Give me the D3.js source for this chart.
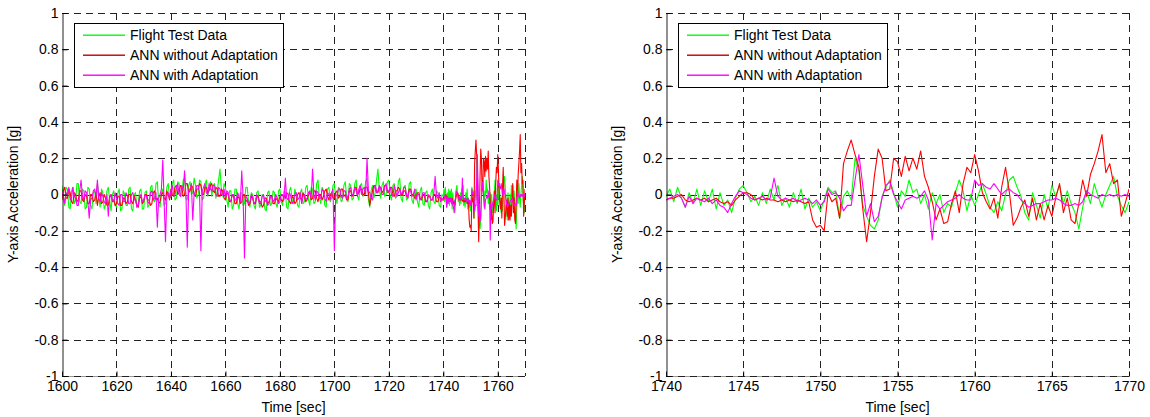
<!DOCTYPE html>
<html><head><meta charset="utf-8">
<script src="https://cdn.jsdelivr.net/npm/d3@7"></script>
<style>body{margin:0;background:#fff;} svg{display:block;font-family:"Liberation Sans",Arial,sans-serif;}</style>
</head><body><svg id="chart" width="1150" height="417"></svg>
<script>
// ---- Data ----
// Coarse samples, 0.5 s apart, 1600 .. 1739.5 s
const coarseStart = 1600, coarseEnd = 1740, coarseStep = 0.5;
const flightCoarse = [
  0.05,-0.02,-0.06,0.04,0.03,-0.07,-0.08,0.02,0.04,-0.05,-0.03,0.06,0.06,-0.04,-0.05,0.03,0.02,-0.08,-0.07,0.04,
  0.03,-0.06,-0.08,0.01,0.02,-0.05,0.06,-0.02,-0.07,0.03,0.01,-0.08,-0.06,0.02,0.04,-0.03,-0.09,0.00,0.02,-0.06,
  -0.07,0.01,0.03,-0.09,-0.08,0.02,0.00,-0.06,-0.06,0.03,0.04,-0.08,-0.09,0.00,0.01,-0.07,-0.05,0.02,0.03,-0.08,
  -0.08,0.01,0.02,-0.07,-0.06,0.04,0.05,-0.03,-0.04,0.06,0.07,-0.05,-0.07,0.01,0.03,-0.06,-0.05,0.04,0.06,-0.02,
  -0.01,0.06,0.08,-0.03,-0.02,0.07,0.06,-0.01,0.00,0.08,0.09,-0.02,-0.03,0.05,0.07,0.00,0.01,0.09,0.05,-0.02,
  0.00,0.08,0.07,-0.03,-0.02,0.06,0.08,-0.01,0.03,0.07,-0.01,0.05,0.06,-0.02,0.02,0.08,0.14,0.03,-0.01,0.06,
  0.04,-0.03,-0.07,0.02,0.02,-0.08,-0.06,0.03,0.03,-0.05,-0.08,0.01,0.01,-0.06,-0.05,0.04,0.04,-0.04,-0.07,0.01,
  0.00,-0.06,-0.08,0.01,0.02,-0.07,-0.06,0.00,-0.01,-0.08,-0.09,0.01,0.02,-0.06,-0.05,0.02,0.01,-0.05,-0.07,0.02,
  0.03,-0.04,-0.06,0.02,0.01,-0.07,-0.08,0.02,0.04,-0.03,-0.05,0.03,0.00,-0.06,-0.07,0.01,0.03,-0.05,-0.04,0.04,
  0.05,-0.03,-0.06,0.04,0.03,-0.05,-0.04,0.06,0.08,-0.02,-0.05,0.04,0.02,-0.06,-0.07,0.03,0.04,-0.04,-0.02,0.05,
  0.06,-0.02,-0.05,0.04,0.03,-0.04,-0.03,0.05,0.07,-0.01,-0.04,0.06,0.05,-0.03,-0.02,0.06,0.08,-0.01,-0.03,0.05,
  0.06,-0.01,0.00,0.07,0.09,-0.03,-0.07,0.02,0.05,-0.02,0.01,0.08,0.14,0.03,-0.02,0.05,0.07,-0.01,0.00,0.07,
  0.08,-0.01,-0.03,0.05,0.06,-0.02,-0.01,0.07,0.09,-0.02,-0.04,0.04,0.05,-0.03,-0.02,0.06,0.07,-0.03,-0.05,0.02,
  0.03,-0.04,-0.07,0.02,0.04,-0.05,-0.06,0.01,0.02,-0.06,-0.08,0.01,0.03,-0.04,-0.05,0.02,0.01,-0.06,-0.07,0.00
];
const annNoAdaptCoarse = [
  -0.03,0.02,0.04,-0.02,-0.02,0.03,0.01,-0.04,-0.05,0.01,0.00,-0.04,-0.03,0.02,0.02,-0.03,-0.04,0.00,-0.01,-0.05,
  -0.05,0.00,0.00,-0.04,-0.03,0.01,-0.06,-0.01,0.01,-0.05,-0.04,0.00,-0.02,-0.06,-0.06,-0.01,0.00,-0.04,-0.03,-0.06,
  -0.05,-0.01,-0.01,-0.06,-0.06,-0.02,-0.02,-0.05,-0.04,0.00,0.00,-0.04,-0.05,-0.01,-0.03,-0.06,-0.07,-0.02,-0.01,-0.05,
  -0.04,0.00,0.00,-0.03,-0.03,-0.06,-0.05,0.01,0.02,-0.03,-0.02,-0.05,-0.04,0.00,0.01,-0.02,-0.03,0.02,0.00,-0.03,
  0.03,0.00,-0.01,0.04,0.05,0.00,0.01,0.05,0.04,-0.01,0.00,0.06,0.06,0.01,0.02,0.05,0.04,0.00,-0.01,0.03,
  0.03,0.06,0.05,0.00,0.00,0.04,0.04,0.01,0.02,0.05,0.06,0.02,0.01,0.04,0.03,-0.01,-0.01,0.03,0.02,-0.02,
  -0.03,0.01,0.00,-0.04,-0.04,0.00,-0.01,-0.05,-0.05,-0.01,-0.02,-0.05,-0.04,0.00,0.00,-0.04,-0.03,-0.06,-0.05,-0.01,
  -0.02,-0.05,-0.05,-0.01,-0.01,-0.04,-0.04,-0.07,-0.06,-0.02,-0.02,-0.05,-0.04,-0.01,-0.01,-0.05,-0.05,-0.02,-0.03,-0.04,
  -0.01,-0.03,-0.04,-0.01,-0.02,0.01,0.00,-0.04,-0.05,-0.01,-0.02,-0.05,-0.04,0.00,0.01,-0.02,-0.03,0.01,-0.01,-0.04,
  -0.03,0.00,0.01,-0.03,-0.02,0.02,0.02,-0.02,-0.04,0.00,0.00,-0.03,-0.01,0.02,0.03,-0.01,-0.03,0.00,0.01,-0.02,
  -0.02,0.01,0.02,-0.02,-0.01,0.03,0.03,-0.01,0.00,-0.03,-0.03,0.02,0.02,-0.01,0.00,0.04,0.04,0.00,0.01,0.03,
  0.03,0.00,0.00,0.04,0.04,0.01,-0.06,-0.02,0.02,0.05,0.05,0.01,0.01,0.04,0.04,0.01,0.02,0.05,0.05,0.02,
  0.01,0.04,0.04,0.00,-0.01,0.02,0.02,0.04,0.03,0.00,0.00,0.02,0.02,-0.01,-0.01,0.03,0.03,0.00,0.00,-0.02,
  -0.02,0.01,0.01,-0.02,-0.03,0.00,0.00,-0.04,-0.04,-0.01,-0.01,-0.03,-0.03,0.00,0.00,-0.04,-0.04,-0.01,-0.02,-0.03
];
const annAdaptCoarse = [
  0.02,-0.01,-0.05,0.01,0.00,0.04,-0.03,-0.02,0.04,-0.01,-0.02,-0.06,-0.06,0.02,0.08,-0.01,-0.03,0.02,0.01,-0.04,
  -0.13,-0.03,-0.02,0.02,0.03,-0.01,0.08,-0.02,-0.04,0.01,-0.01,-0.04,-0.05,0.00,-0.12,-0.02,0.00,-0.03,-0.04,0.01,
  -0.02,-0.05,-0.06,0.00,0.00,-0.04,-0.04,0.01,-0.01,-0.05,-0.05,0.00,0.01,-0.03,-0.03,-0.07,-0.06,-0.01,0.00,-0.04,
  -0.03,0.00,-0.01,-0.04,-0.05,0.01,0.02,-0.03,-0.02,0.01,-0.18,-0.02,0.00,0.03,0.19,-0.04,-0.26,-0.01,0.01,-0.02,
  0.02,0.05,-0.01,0.00,0.04,0.06,0.00,-0.01,0.05,0.02,0.13,0.00,-0.29,0.02,0.03,0.06,-0.14,0.00,0.02,0.05,
  0.05,0.01,-0.31,0.02,0.04,0.06,0.01,0.00,0.06,0.03,0.02,0.05,0.05,0.00,-0.01,0.04,0.03,0.00,0.00,0.03,
  -0.02,0.02,0.01,-0.03,-0.04,0.00,0.00,-0.03,-0.03,0.01,-0.01,-0.04,0.13,-0.02,-0.35,-0.01,-0.02,-0.05,-0.04,0.00,
  -0.01,-0.05,-0.04,0.00,-0.02,-0.05,-0.05,-0.01,0.00,-0.04,-0.03,-0.06,-0.05,-0.01,-0.01,-0.04,-0.03,0.00,-0.02,-0.05,
  -0.04,0.00,0.00,-0.03,0.09,-0.02,-0.03,0.01,-0.01,-0.05,-0.04,0.00,0.01,-0.03,-0.02,0.01,-0.05,-0.01,0.00,-0.03,
  -0.02,0.01,0.02,-0.02,0.14,0.00,-0.03,0.02,0.01,-0.02,-0.02,0.03,0.02,-0.02,-0.04,0.01,0.00,-0.03,0.01,0.03,
  -0.31,-0.01,0.00,0.03,0.03,-0.01,-0.02,0.02,0.02,-0.02,-0.01,0.03,0.04,0.00,0.00,0.04,0.02,-0.01,0.03,0.05,
  0.00,0.03,0.04,0.00,0.20,0.02,0.01,-0.02,-0.03,0.03,0.05,0.01,0.02,0.05,0.03,0.00,0.00,0.04,0.06,0.01,
  0.02,0.04,0.00,-0.01,0.05,0.02,-0.01,0.01,0.03,0.00,0.01,0.04,0.04,0.00,-0.02,0.02,0.02,-0.01,0.00,0.03,
  -0.03,0.00,0.00,-0.03,-0.02,0.01,0.01,-0.03,-0.04,0.00,-0.01,-0.03,-0.03,0.00,0.10,-0.01,-0.02,0.01,-0.04,-0.02
];
// Fine samples, 0.25 s apart, 1740 .. 1770 s
const fineStart = 1740, fineStep = 0.25;
const flightFine = [
  -0.01,0.03,-0.04,0.04,-0.02,-0.07,0.01,-0.05,0.03,-0.06,
  0.02,-0.04,0.03,-0.08,0.01,-0.06,-0.03,-0.10,-0.02,0.03,
  0.05,0.01,-0.04,-0.01,-0.06,0.01,-0.05,0.03,-0.03,0.05,
  -0.06,-0.02,-0.07,0.01,-0.05,0.03,-0.08,-0.02,-0.07,-0.04,
  -0.09,-0.03,0.04,0.01,0.02,-0.13,-0.01,0.02,-0.03,0.20,
  0.13,-0.06,-0.12,-0.17,-0.19,-0.14,-0.01,0.04,0.08,0.01,
  -0.07,0.02,-0.01,0.08,0.01,0.03,-0.05,0.00,-0.08,0.01,
  -0.05,0.00,-0.10,-0.05,-0.07,0.01,0.08,0.02,-0.09,0.00,
  -0.06,0.00,0.06,0.00,-0.07,-0.10,-0.04,-0.09,0.00,0.08,
  0.10,0.04,-0.01,-0.10,-0.14,0.01,-0.06,-0.13,0.00,-0.08,
  0.05,-0.01,0.05,-0.05,0.02,-0.05,-0.10,-0.19,-0.07,0.02,
  -0.05,0.06,-0.01,-0.07,0.00,0.05,0.10,-0.01,-0.06,-0.10,
  -0.04
];
const annNoAdaptFine = [
  -0.03,-0.02,-0.02,-0.01,0.00,-0.03,-0.04,-0.03,-0.02,-0.03,
  -0.02,-0.04,-0.03,-0.02,-0.04,-0.05,-0.04,-0.06,-0.03,-0.01,
  0.01,0.01,0.00,-0.03,-0.02,-0.03,-0.02,-0.03,-0.03,-0.04,
  -0.03,-0.04,-0.03,-0.04,-0.03,-0.04,-0.05,-0.04,-0.14,-0.18,
  -0.17,-0.20,0.01,-0.04,-0.02,-0.13,0.17,0.24,0.30,0.22,
  0.15,-0.08,-0.26,-0.10,0.10,0.25,0.20,0.02,0.03,0.20,
  0.18,0.10,0.21,0.13,0.20,0.14,0.24,0.10,0.04,-0.04,
  -0.14,-0.08,-0.16,-0.15,-0.05,0.02,-0.10,0.06,0.15,0.12,
  0.22,0.13,0.01,-0.04,-0.08,-0.02,-0.13,0.04,0.15,0.01,
  -0.17,-0.13,-0.07,-0.03,-0.12,-0.02,-0.14,-0.05,-0.14,-0.06,
  -0.12,-0.02,0.06,-0.10,-0.02,-0.14,-0.16,-0.05,0.08,-0.01,
  0.11,0.17,0.24,0.33,0.12,0.17,0.06,0.08,-0.12,-0.05,
  0.03
];
const annAdaptFine = [
  -0.03,-0.02,-0.01,0.00,-0.02,-0.07,-0.01,-0.05,-0.02,-0.03,
  -0.04,-0.02,-0.05,-0.03,-0.06,-0.07,-0.10,-0.05,-0.01,0.02,
  0.01,0.00,-0.02,-0.03,-0.02,-0.01,-0.03,-0.02,0.09,-0.01,
  -0.03,-0.02,-0.03,-0.02,-0.04,-0.03,-0.02,-0.03,-0.05,-0.03,
  -0.06,-0.04,0.03,0.00,0.01,-0.02,-0.09,-0.06,-0.06,0.08,
  0.22,0.05,-0.12,-0.05,-0.15,-0.12,-0.02,0.05,0.07,0.00,
  -0.04,-0.08,-0.03,-0.02,-0.01,-0.02,-0.01,0.02,-0.03,-0.25,
  -0.05,-0.08,-0.06,-0.04,-0.03,-0.02,0.00,-0.02,-0.03,-0.03,
  0.08,0.05,0.06,0.04,0.03,0.06,0.03,0.00,0.02,0.03,
  0.01,0.00,-0.03,-0.05,-0.07,-0.06,-0.05,-0.05,-0.04,-0.03,
  -0.03,-0.02,-0.03,-0.05,-0.06,-0.06,-0.05,-0.06,-0.04,0.02,
  0.00,-0.01,-0.02,0.00,-0.01,0.00,-0.01,0.00,-0.01,0.00,
  -0.01
];
const seriesNames = ["Flight Test Data", "ANN without Adaptation", "ANN with Adaptation"];
const seriesColors = ["#00ff00", "#ff0000", "#ff00ff"];
const legendColors = ["#00ff00", "#c00000", "#ff00ff"];
const leftXTicks = [1600,1620,1640,1660,1680,1700,1720,1740,1760];
const rightXTicks = [1740,1745,1750,1755,1760,1765,1770];
const yTicks = [-1,-0.8,-0.6,-0.4,-0.2,0,0.2,0.4,0.6,0.8,1];
const xLabel = "Time [sec]";
const yLabel = "Y-axis Acceleration [g]";

// ---- Build sample tables ----
const coarseTime = d3.range(coarseStart, coarseEnd, coarseStep);
const fineTime = flightFine.map((_, i) => fineStart + i * fineStep);
const zip = (t, v) => t.map((tt, i) => [tt, v[i]]);
const fullSeries = [
  zip(coarseTime, flightCoarse).concat(zip(fineTime, flightFine)),
  zip(coarseTime, annNoAdaptCoarse).concat(zip(fineTime, annNoAdaptFine)),
  zip(coarseTime, annAdaptCoarse).concat(zip(fineTime, annAdaptFine))
];
const zoomSeries = [
  zip(fineTime, flightFine),
  zip(fineTime, annNoAdaptFine),
  zip(fineTime, annAdaptFine)
];

const svg = d3.select("#chart");
const defs = svg.append("defs");
const fmtY = d => String(Math.round(d * 10) / 10);
const FS = 14;

function panel(o) {
  const x = d3.scaleLinear().domain(o.xDomain).range([o.left, o.right]);
  const y = d3.scaleLinear().domain([-1, 1]).range([o.bottom, o.top]);
  const g = svg.append("g");
  const clipId = "clip" + o.left;
  defs.append("clipPath").attr("id", clipId).append("rect")
    .attr("x", o.left).attr("y", o.top - 1)
    .attr("width", o.right - o.left).attr("height", o.bottom - o.top + 2);

  // light solid frame under dashed bottom grid
  g.append("line").attr("x1", o.left).attr("x2", o.right)
    .attr("y1", Math.round(o.bottom) + 0.5).attr("y2", Math.round(o.bottom) + 0.5)
    .attr("stroke", "#999").attr("stroke-width", 1);

  // grid
  const gx = o.xTicks.filter(v => v > o.xDomain[0]);
  if (!gx.includes(o.xDomain[1])) gx.push(o.xDomain[1]);
  g.append("g").selectAll("line").data(gx).join("line")
    .attr("x1", d => Math.round(x(d)) + 0.5).attr("x2", d => Math.round(x(d)) + 0.5)
    .attr("y1", o.top).attr("y2", o.bottom)
    .attr("stroke", "#222").attr("stroke-width", 1).attr("stroke-dasharray", "7,5");
  g.append("g").selectAll("line").data(yTicks).join("line")
    .attr("x1", o.left).attr("x2", o.right)
    .attr("y1", d => Math.round(y(d)) + 0.5).attr("y2", d => Math.round(y(d)) + 0.5)
    .attr("stroke", "#222").attr("stroke-width", 1).attr("stroke-dasharray", "7,5");

  // data
  const line = d3.line().x(d => x(d[0])).y(d => y(d[1]));
  const dg = g.append("g").attr("clip-path", `url(#${clipId})`);
  o.series.forEach((s, i) => {
    dg.append("path").datum(s).attr("d", line)
      .attr("fill", "none").attr("stroke", seriesColors[i]).attr("stroke-width", 1.1)
      .attr("stroke-linejoin", "round");
  });

  // axes
  const ax = g.append("g").attr("transform", `translate(0,${Math.round(o.bottom) + 0.5})`)
    .call(d3.axisBottom(x).tickValues(o.xTicks).tickSizeInner(-5).tickSizeOuter(0).tickPadding(5).tickFormat(d3.format("d")));
  ax.select(".domain").remove();
  ax.selectAll(".tick line").attr("stroke", "#000");
  const ay = g.append("g").attr("transform", `translate(${Math.round(o.left) + 0.5},0)`)
    .call(d3.axisLeft(y).tickValues(yTicks).tickSizeInner(-5).tickSizeOuter(0).tickPadding(4).tickFormat(fmtY));
  ay.select(".domain").attr("stroke", "#222");
  ay.selectAll(".tick line").attr("stroke", "#000");
  [ax, ay].forEach(a => a.attr("font-size", FS).attr("font-family", '"Liberation Sans", Arial, sans-serif')
    .selectAll(".tick text").attr("fill", "#000"));

  // labels
  g.append("text").attr("x", (o.left + o.right) / 2).attr("y", 412)
    .attr("text-anchor", "middle").attr("font-size", FS).text(xLabel);
  g.append("text").attr("transform", `translate(${o.left - 44},${(o.top + o.bottom) / 2}) rotate(-90)`)
    .attr("text-anchor", "middle").attr("font-size", FS).text(yLabel);

  // legend
  const lx = o.left + 12, ly = 23;
  const lg = g.append("g");
  lg.append("rect").attr("x", lx + 0.5).attr("y", ly + 0.5).attr("width", 209).attr("height", 64)
    .style("fill", "#fff").style("stroke", "#000").style("stroke-width", 1);
  seriesNames.forEach((n, i) => {
    const ry = ly + 12 + i * 20;
    lg.append("rect").attr("x", lx + 9).attr("y", ry - 0.5).attr("width", 42).attr("height", 1.4)
      .style("fill", legendColors[i]).style("stroke", "none");
    lg.append("text").attr("x", lx + 56).attr("y", ry + 5).attr("font-size", FS).style("fill", "#000").text(n);
  });
}

panel({ left: 62, right: 525, top: 13, bottom: 376, xDomain: [1600, 1770], xTicks: leftXTicks, series: fullSeries });
panel({ left: 666, right: 1129, top: 13, bottom: 376, xDomain: [1740, 1770], xTicks: rightXTicks, series: zoomSeries });
</script>
</body></html>
